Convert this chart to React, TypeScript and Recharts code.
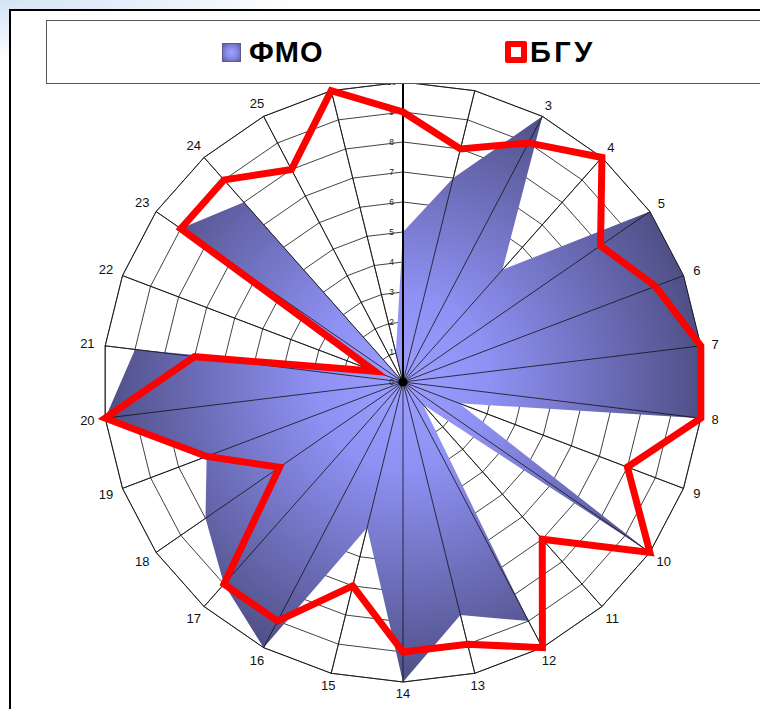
import React from 'react';
import { RadarChart, Radar, PolarGrid, PolarAngleAxis, PolarRadiusAxis, Legend } from 'recharts';

const categories = ['1','2','3','4','5','6','7','8','9','10','11','12','13','14','15','16','17','18','19','20','21','22','23','24','25','26'];
const fmoValues = [5, 7, 10, 5, 10, 10, 10, 10, 2, 10, 1, 9, 8, 10, 5, 10, 9, 8, 7, 10, 9, 1, 9, 8, 0, 1];
const bguValues = [9, 8, 9, 10, 8, 9, 10, 10, 8, 10, 7, 10, 9, 9, 7, 9, 9, 5, 7, 10, 7, 1, 9, 9, 8, 10];
const radiusTicks = [0, 1, 2, 3, 4, 5, 6, 7, 8, 9, 10];
const seriesNames = ['ФМО', 'БГУ'];

const data = categories.map((c, i) => ({ category: c, fmo: fmoValues[i], bgu: bguValues[i] }));

const CX = 403;
const CY = 382;
const R = 300;
const FONT = '"Liberation Sans", Arial, sans-serif';

function AngleTick(props: any) {
  const { payload } = props;
  const angle = payload.coordinate;
  const rad = (angle * Math.PI) / 180;
  const cos = Math.cos(rad);
  const sin = Math.sin(rad);
  const label = String(payload.value);
  const halfW = label.length * 3.5;
  const r = R + 11 + halfW * Math.abs(cos);
  const tx = CX + r * cos;
  const ty = CY - r * sin;
  return (
    <text x={tx} y={ty} textAnchor="middle" dominantBaseline="central" fontSize={13} fill="#111" fontFamily={FONT}>
      {label}
    </text>
  );
}

function RadiusTick(props: any) {
  const { x, y, payload } = props;
  return (
    <g>
      <text x={x - 11.5} y={y} textAnchor="middle" dominantBaseline="central" fontSize={8.5} fill="#222" fontFamily={FONT}>
        {payload.value}
      </text>
      {payload.value === 0 ? <circle cx={x} cy={y} r={4.5} fill="#000" /> : null}
    </g>
  );
}

function LegendContent(props: any) {
  const payload = [...(props.payload || [])].sort(
    (a: any, b: any) => seriesNames.indexOf(a.value) - seriesNames.indexOf(b.value)
  );
  const lefts = [175, 458];
  return (
    <div style={{ position: 'relative', width: '100%', height: '100%' }}>
      {payload.map((entry: any, i: number) => {
        const first = entry.value === seriesNames[0];
        return (
          <div
            key={i}
            style={{
              position: 'absolute',
              left: lefts[i] ?? 0,
              top: 0,
              height: 62,
              display: 'flex',
              alignItems: 'center',
            }}
          >
            {first ? (
              <span
                style={{
                  display: 'inline-block',
                  width: 19,
                  height: 19,
                  boxSizing: 'border-box',
                  border: '1px solid #5a5a90',
                  background: 'radial-gradient(circle, #a2a4ff 0%, #8587e6 50%, #5d5e9c 100%)',
                }}
              />
            ) : (
              <span
                style={{
                  display: 'inline-block',
                  width: 22,
                  height: 22,
                  boxSizing: 'border-box',
                  border: '6px solid #ff0000',
                  borderRadius: 2,
                  background: '#fff',
                }}
              />
            )}
            <span
              style={{
                marginLeft: first ? 8 : 3,
                fontFamily: FONT,
                fontWeight: 'bold',
                fontSize: 29,
                color: '#000',
                letterSpacing: first ? 1 : 3.5,
                lineHeight: 1,
              }}
            >
              {entry.value}
            </span>
          </div>
        );
      })}
    </div>
  );
}

export default function App() {
  return (
    <div style={{ position: 'absolute', left: 0, top: 0, width: 760, height: 709, overflow: 'hidden', background: '#fff' }}>
      <div
        style={{
          position: 'absolute',
          left: 0,
          top: 0,
          width: 300,
          height: 140,
          background: 'radial-gradient(ellipse 300px 60px at 0px 0px, #d6e4f4 0%, #e8f0fa 50%, rgba(255,255,255,0) 100%)',
        }}
      />
      <div
        style={{
          position: 'absolute',
          left: 9,
          top: 9,
          width: 800,
          height: 800,
          borderLeft: '2px solid #000',
          borderTop: '2px solid #000',
          background: '#fff',
        }}
      />
      <div style={{ position: 'absolute', left: 0, top: 0 }}>
        <RadarChart width={760} height={709} data={data} cx={CX} cy={CY} outerRadius={R} margin={{ top: 0, right: 0, bottom: 0, left: 0 }}>
          <defs>
            <radialGradient id="fmoGrad" gradientUnits="userSpaceOnUse" cx={CX} cy={CY} r={R}>
              <stop offset="0%" stopColor="#9c9eff" />
              <stop offset="30%" stopColor="#8e90f2" />
              <stop offset="100%" stopColor="#4f4f86" />
            </radialGradient>
          </defs>
          <PolarGrid gridType="polygon" stroke="#111" strokeWidth={0.8} strokeOpacity={1} />
          <PolarAngleAxis dataKey="category" tick={AngleTick} tickLine={false} axisLine={false} />
          <Radar
            name={seriesNames[0]}
            dataKey="fmo"
            fill="url(#fmoGrad)"
            fillOpacity={1}
            stroke="none"
            dot={false}
            isAnimationActive={false}
          />
          <PolarGrid
            gridType="polygon"
            polarRadius={[R]}
            stroke="#111"
            strokeWidth={0.8}
            strokeOpacity={1}
            zIndex={150}
          />
          <PolarRadiusAxis
            angle={90}
            domain={[0, 10]}
            ticks={radiusTicks}
            tickCount={11}
            type="number"
            tick={RadiusTick}
            axisLine={{ stroke: '#000', strokeWidth: 2 }}
            tickLine={false}
            zIndex={160}
          />
          <Radar
            name={seriesNames[1]}
            dataKey="bgu"
            fill="none"
            fillOpacity={0}
            stroke="#ff0000"
            strokeWidth={7}
            dot={false}
            isAnimationActive={false}
            zIndex={200}
          />
          <Legend
            verticalAlign="top"
            content={LegendContent}
            wrapperStyle={{
              position: 'absolute',
              top: 20,
              left: 46,
              width: 740,
              height: 64,
              boxSizing: 'border-box',
              border: '1px solid #555',
              background: '#fff',
            }}
          />
        </RadarChart>
      </div>
    </div>
  );
}
